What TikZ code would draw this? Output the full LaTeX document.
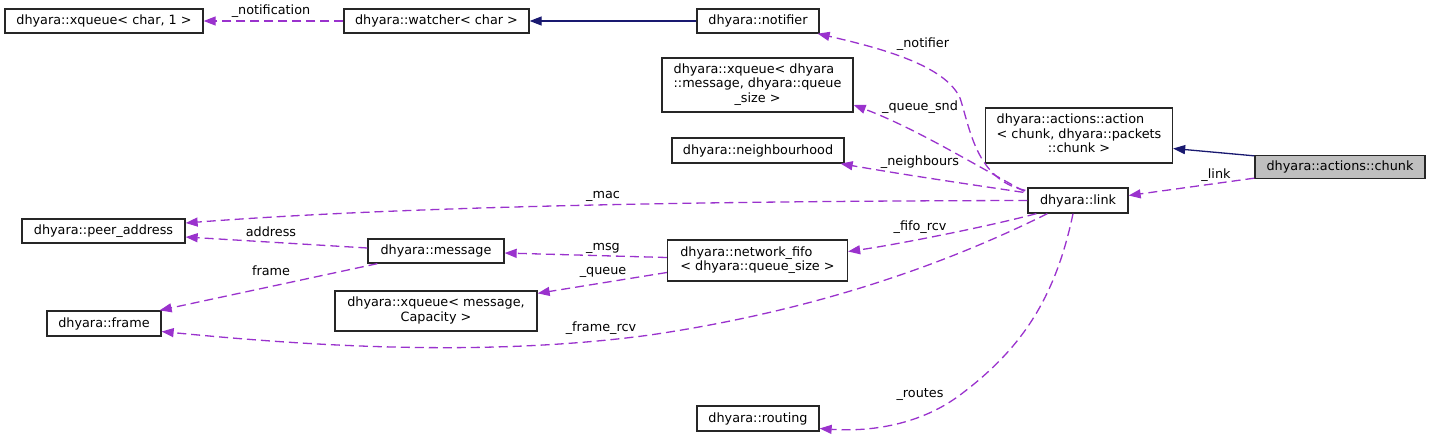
\documentclass[tikz,border=0pt]{standalone}
\usepackage{fontspec}
\setmainfont{DejaVu Sans}
\usetikzlibrary{arrows.meta,calc}
\definecolor{dorchid}{HTML}{9A32CD}
\definecolor{mblue}{HTML}{191970}
\definecolor{chunkgray}{HTML}{BFBFBF}
\newcommand{\lft}[1]{\begin{tabular}{@{}l@{}}#1\end{tabular}}
\newcommand{\ctr}[1]{\multicolumn{1}{@{}c@{}}{#1}}
\begin{document}
\begin{tikzpicture}[x=1pt,y=-1pt,
  every node/.style={font=\fontsize{12.8}{14.5}\selectfont},
  cls/.style={draw=black!85, line width=1.3pt, inner sep=0pt, fill=white},
  dep/.style={draw=dorchid, line width=1.3pt, dash pattern=on 9pt off 5pt, -{Triangle[length=12pt,width=9pt]}},
  inh/.style={draw=mblue, line width=1.3pt, -{Triangle[length=12pt,width=9pt]}},
  lbl/.style={inner sep=0pt}]
\useasboundingbox (0,0) rectangle (1431,439);
% classes
\node[cls, minimum width=198pt, minimum height=24pt] (xq1) at (104,21) {dhyara::xqueue< char, 1 >};
\node[cls, minimum width=185pt, minimum height=24pt] (watcher) at (436.5,21) {dhyara::watcher< char >};
\node[cls, minimum width=122pt, minimum height=24pt] (notifier) at (758,21) {dhyara::notifier};
\node[cls, minimum width=191pt, minimum height=54pt] (xqsnd) at (757.5,85) {\lft{dhyara::xqueue< dhyara\\ ::message, dhyara::queue\\ \ctr{\_size >}}};
\node[cls, minimum width=172pt, minimum height=25pt] (neigh) at (758,150.5) {dhyara::neighbourhood};
\node[cls, minimum width=187pt, minimum height=55pt] (action) at (1079,135.5) {\lft{dhyara::actions::action\\ < chunk, dhyara::packets\\ \ctr{::chunk >}}};
\node[cls, fill=chunkgray, minimum width=170pt, minimum height=23pt] (chunk) at (1340,167) {dhyara::actions::chunk};
\node[cls, minimum width=100pt, minimum height=25pt] (link) at (1078,200.5) {dhyara::link};
\node[cls, minimum width=163pt, minimum height=24pt] (peer) at (103.5,231) {dhyara::peer\_address};
\node[cls, minimum width=136pt, minimum height=24pt] (message) at (436,251) {dhyara::message};
\node[cls, minimum width=180pt, minimum height=41pt] (fifo) at (757.5,260.5) {\lft{dhyara::network\_fifo\\ \ctr{< dhyara::queue\_size >}}};
\node[cls, minimum width=202pt, minimum height=40pt] (xqmsg) at (436,311) {\begin{tabular}{@{}c@{}}dhyara::xqueue< message,\\ Capacity >\end{tabular}};
\node[cls, minimum width=114pt, minimum height=25pt] (frame) at (104,323.5) {dhyara::frame};
\node[cls, minimum width=122pt, minimum height=25pt] (routing) at (758,418.5) {dhyara::routing};
% connectors
\draw[dep] (watcher.west) -- (xq1.east);
\draw[inh] (notifier.west) -- (watcher.east);
\draw[dep] ($(link.north west)+(-2,3)$) .. controls (976,180) and (970,128) .. (960,98) .. controls (945,65) and (880,48) .. ($(notifier.south east)+(-2,0)$);
\draw[dep] ($(link.north west)+(-3,4)$) .. controls (975,165) and (915,128) .. ($(xqsnd.east)+(0,20)$);
\draw[dep] ($(link.north west)+(-4,5)$) .. controls (960,183) and (900,174) .. ($(neigh.south east)+(-4,0)$);
\draw[dep] (link.west) .. controls (750,201) and (420,205) .. ($(peer.east)+(0,-8)$);
\draw[dep] ($(chunk.south west)+(0,-1)$) -- ($(link.east)+(0,-5)$);
\draw[inh] ($(chunk.north west)+(0,1)$) -- ($(action.east)+(0,13)$);
\draw[dep] ($(link.south west)+(9,0)$) .. controls (990,226) and (900,244) .. ($(fifo.east)+(0,-9)$);
\draw[dep] ($(link.south west)+(20,0)$) .. controls (950,262) and (820,310) .. (650,335) .. controls (480,358) and (300,345) .. ($(frame.east)+(0,8)$);
\draw[dep] ($(link.south)+(-5,0)$) .. controls (1055,300) and (1020,350) .. (960,395) .. controls (920,425) and (870,432) .. ($(routing.east)+(0,10)$);
\draw[dep] ($(message.west)+(0,-3)$) -- ($(peer.east)+(0,6)$);
\draw[dep] ($(message.south west)+(10,0)$) -- ($(frame.north east)+(-2,0)$);
\draw[dep] ($(fifo.west)+(0,-3)$) -- ($(message.east)+(0,2)$);
\draw[dep] ($(fifo.west)+(0,12)$) -- ($(xqmsg.north east)+(0,3)$);
% labels
\node[lbl] (l1) at (271,11) {\_notification};
\node[lbl] (l2) at (923,44) {\_notifier};
\node[lbl] (l3) at (920,107) {\_queue\_snd};
\node[lbl] (l4) at (920,162) {\_neighbours};
\node[lbl] (l5) at (603,196) {\_mac};
\node[lbl] (l6) at (1216,175) {\_link};
\node[lbl] (l7) at (920,227) {\_fifo\_rcv};
\node[lbl] (l8) at (601,328) {\_frame\_rcv};
\node[lbl] (l9) at (920,395) {\_routes};
\node[lbl] (l10) at (271,232) {address};
\node[lbl] (l11) at (271,271) {frame};
\node[lbl] (l12) at (603,248) {\_msg};
\node[lbl] (l13) at (603,272) {\_queue};
\end{tikzpicture}
\end{document}
